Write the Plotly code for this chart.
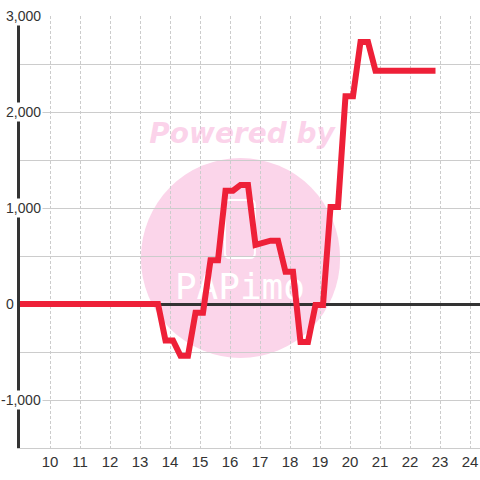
import plotly.graph_objects as go

# ---- data ----
hours = [9.0, 13.6, 13.85, 14.1, 14.35, 14.6, 14.85, 15.1, 15.35, 15.6, 15.85,
         16.1, 16.35, 16.6, 16.85, 17.1, 17.35, 17.6, 17.85, 18.1, 18.35, 18.6,
         18.85, 19.1, 19.35, 19.6, 19.85, 20.1, 20.35, 20.6, 20.85, 21.1, 21.35,
         21.6, 21.85, 22.1, 22.35, 22.6, 22.85]
values = [0, 0, -380, -380, -540, -540, -90, -90, 455, 455, 1180,
          1180, 1240, 1240, 615, 635, 660, 660, 335, 335, -395, -395,
          -10, -10, 1010, 1010, 2165, 2165, 2730, 2730, 2430, 2430, 2430,
          2430, 2430, 2430, 2430, 2430, 2430]

x_ticks = [10, 11, 12, 13, 14, 15, 16, 17, 18, 19, 20, 21, 22, 23, 24]
x_tick_labels = [str(v) for v in x_ticks]
y_label_vals = [3000, 2000, 1000, 0, -1000]
y_label_text = ["3,000", "2,000", "1,000", "0", "-1,000"]

watermark_top = "Powered by"
watermark_logo = "PAPimo"

FONT = "Liberation Sans, Arial, sans-serif"
PINK = "#FBD5EA"

fig = go.Figure()

# watermark text (below the data line)
fig.add_trace(go.Scatter(
    x=[16.4], y=[1745], mode="text", text=[watermark_top],
    textposition="middle center",
    textfont=dict(family="DejaVu Sans", size=28, color="rgba(247,168,213,0.5)",
                  weight="bold", style="italic"),
    hoverinfo="skip", showlegend=False))
fig.add_trace(go.Scatter(
    x=[16.33], y=[150], mode="text", text=[watermark_logo],
    textposition="middle center",
    textfont=dict(family="DejaVu Sans Mono", size=36, color="white"),
    hoverinfo="skip", showlegend=False))

# data line
fig.add_trace(go.Scatter(
    x=hours, y=values, mode="lines",
    line=dict(color="#EE2038", width=6),
    hoverinfo="skip", showlegend=False))

# watermark circle and icon
fig.add_shape(type="circle", xref="x", yref="y",
              x0=13.03, x1=19.67, y0=-562, y1=1521,
              fillcolor=PINK, line=dict(width=0), layer="below")
rx, ry = 0.17, 52
x0, x1, y0, y1 = 15.83, 16.83, 479, 1083
path = (f"M {x0+rx},{y1} L {x1-rx},{y1} Q {x1},{y1} {x1},{y1-ry} "
        f"L {x1},{y0+ry} Q {x1},{y0} {x1-rx},{y0} L {x0+rx},{y0} "
        f"Q {x0},{y0} {x0},{y0+ry} L {x0},{y1-ry} Q {x0},{y1} {x0+rx},{y1} Z")
fig.add_shape(type="path", xref="x", yref="y", path=path,
              line=dict(color="white", width=2), layer="below")

# y tick labels as boxed annotations over the axis line
for v, t in zip(y_label_vals, y_label_text):
    fig.add_annotation(
        x=0, xref="paper", y=v, yref="y", text=t, showarrow=False,
        xanchor="right", xshift=(-4 if v == 0 else 23),
        bgcolor="white", borderpad=1,
        font=dict(family=FONT, size=14, color="#333333"))

fig.update_layout(
    width=480, height=480,
    margin=dict(l=20, r=0, t=16, b=32),
    paper_bgcolor="white", plot_bgcolor="white",
    showlegend=False,
    xaxis=dict(range=[9, 24.3333], tickvals=x_ticks, ticktext=x_tick_labels,
               showgrid=True, gridcolor="#cccccc", gridwidth=1, griddash="3px,2px",
               zeroline=False, showline=True, linecolor="#cccccc", linewidth=1,
               ticks="", tickfont=dict(family=FONT, size=15, color="#333333"),
               fixedrange=True),
    yaxis=dict(range=[-1500, 3000], dtick=500, tick0=0,
               showgrid=True, gridcolor="#cccccc", gridwidth=1,
               zeroline=True, zerolinecolor="#333333", zerolinewidth=3,
               showline=True, linecolor="#333333", linewidth=3,
               showticklabels=False, ticks="", fixedrange=True),
)

fig.write_html(
    "out.html",
    config={"displayModeBar": False},
    post_script="document.body.style.margin='0';document.body.style.overflow='hidden';",
)
